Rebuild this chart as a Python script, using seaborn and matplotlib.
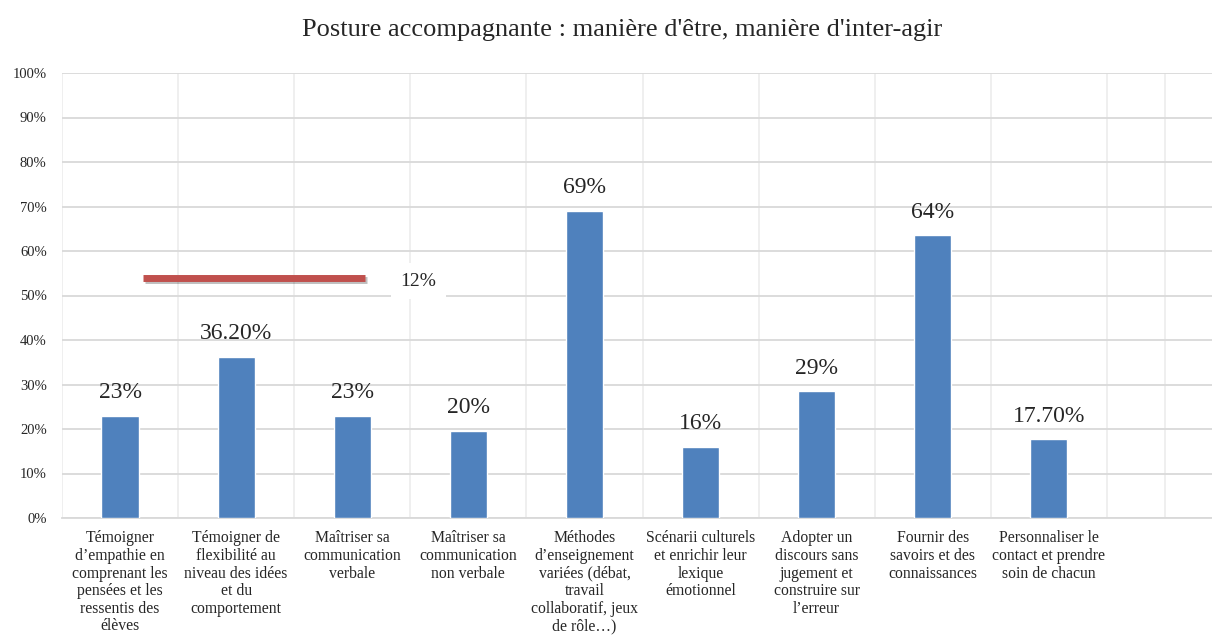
import numpy as np
import pandas as pd
import seaborn as sns
import matplotlib.pyplot as plt
import matplotlib.patheffects as pe

categories = [
    "Témoigner\nd’empathie en\ncomprenant les\npensées et les\nressentis des\nélèves",
    "Témoigner de\nflexibilité au\nniveau des idées\net du\ncomportement",
    "Maîtriser sa\ncommunication\nverbale",
    "Maîtriser sa\ncommunication\nnon verbale",
    "Méthodes\nd’enseignement\nvariées (débat,\ntravail\ncollaboratif, jeux\nde rôle…)",
    "Scénarii culturels\net enrichir leur\nlexique\némotionnel",
    "Adopter un\ndiscours sans\njugement et\nconstruire sur\nl’erreur",
    "Fournir des\nsavoirs et des\nconnaissances",
    "Personnaliser le\ncontact et prendre\nsoin de chacun",
]
values = [23.0, 36.2, 23.0, 19.6, 69.0, 16.0, 28.5, 63.5, 17.7]
labels = ["23%", "36.20%", "23%", "20%", "69%", "16%", "29%", "64%", "17.70%"]

# the odd red series in the original
red_x = [0.2, 2.11]
red_y = [54, 54]
red_label = "12%"

sns.set_style("white")
plt.rcParams['font.family'] = ['Liberation Serif', 'DejaVu Serif']

df = pd.DataFrame({'cat': categories, 'val': values})

fig = plt.figure(figsize=(12.12, 6.36), dpi=100)
ax = fig.add_axes([62/1212, 1-518/636, 1-62/1212, (518-73)/636])

sns.barplot(data=df, x='cat', y='val', color='#4F81BD', width=0.32,
            saturation=1, ax=ax, zorder=3)

for i, (v, lab) in enumerate(zip(values, labels)):
    ax.text(i, v + 2.8, lab, ha='center', va='bottom', fontsize=17)

ax.plot(red_x, red_y, color='#C0504D', lw=5, solid_capstyle='butt', zorder=4,
        path_effects=[pe.SimpleLineShadow(offset=(1.5, -2), alpha=0.25), pe.Normal()])
ax.text(2.57, red_y[0] - 0.8, red_label, ha='center', va='center', fontsize=14,
        bbox=dict(facecolor='white', edgecolor='none', pad=7), zorder=5)

ax.set_yticks(np.arange(0, 101, 10))
ax.set_yticklabels([f"{t}%" for t in range(0, 101, 10)], fontsize=10.5)
ax.set_xticks(range(len(categories)))
ax.set_xticklabels(categories, fontsize=11.3, linespacing=1.13, va='top')
ax.set_xticks(np.arange(-0.5, 10, 0.5), minor=True)
# limits after the ticks, otherwise set_xticks widens them
ax.set_ylim(0, 100)
ax.set_xlim(-0.5, 9.405)
ax.tick_params(axis='x', length=0, pad=9)
ax.tick_params(axis='y', length=0, pad=11)
ax.set_xlabel('')
ax.set_ylabel('')

ax.grid(axis='y', color='#d9d9d9', lw=1.3, zorder=0)
ax.grid(axis='x', which='minor', color='#eeeeee', lw=1.3, zorder=0)
ax.set_axisbelow(True)
for s in ['top', 'right', 'left']:
    ax.spines[s].set_visible(False)
ax.spines['bottom'].set_color('#d9d9d9')
ax.spines['bottom'].set_linewidth(1.3)

fig.text(622/1212, 1-30/636, "Posture accompagnante : manière d'être, manière d'inter-agir",
         ha='center', va='center', fontsize=19)

fig.savefig('out.png', dpi=100)
